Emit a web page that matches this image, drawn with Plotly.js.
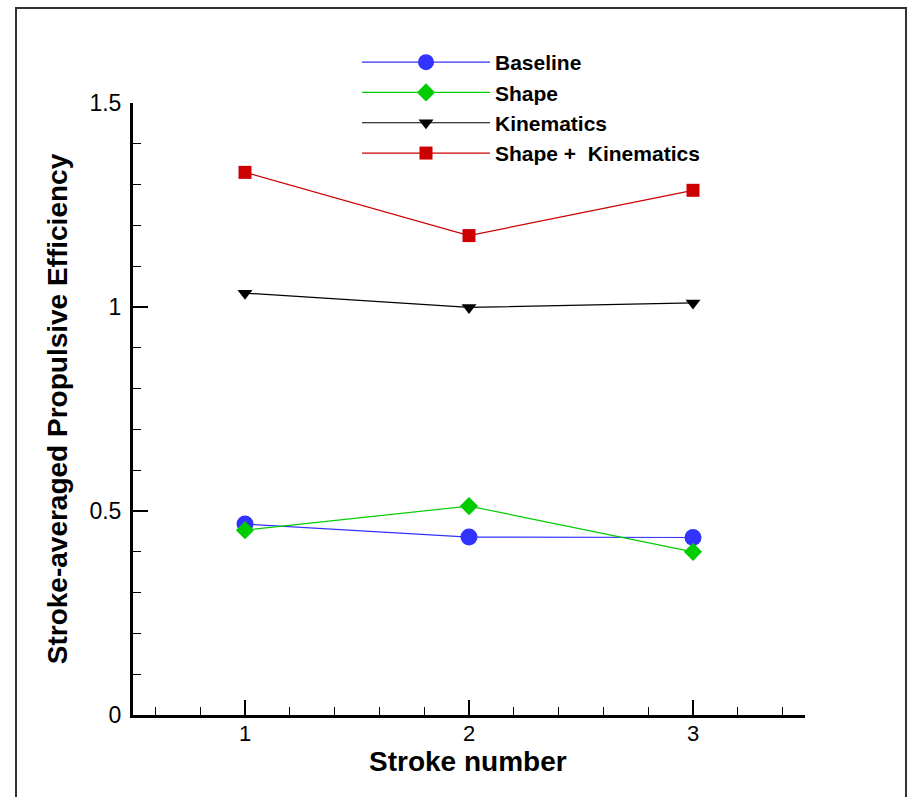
<!DOCTYPE html>
<html>
<head>
<meta charset="utf-8">
<script src="https://cdn.plot.ly/plotly-3.0.1.min.js"></script>
<style>html,body{margin:0;padding:0;background:#fff;}#chart{width:913px;height:797px;}</style>
</head>
<body>
<div id="chart"></div>
<script>
const strokes = [1, 2, 3];
const baseline = [0.468, 0.436, 0.435];
const shape = [0.453, 0.512, 0.400];
const kinematics = [1.034, 0.999, 1.010];
const shapeKinematics = [1.330, 1.175, 1.286];

const seriesNames = ['Baseline', 'Shape', 'Kinematics', 'Shape +  Kinematics'];
const seriesColors = ['rgb(51,51,255)', 'rgb(0,204,0)', 'rgb(0,0,0)', 'rgb(204,0,0)'];
const seriesSymbols = ['circle', 'diamond', 'triangle-down', 'square'];
const seriesSizes = [17, 14, 13, 13];
const seriesValues = [baseline, shape, kinematics, shapeKinematics];
const xTitle = 'Stroke number';
const yTitle = 'Stroke-averaged Propulsive Efficiency';

const traces = seriesValues.map((vals, i) => ({
  x: strokes,
  y: vals,
  type: 'scatter',
  mode: 'lines+markers',
  name: seriesNames[i],
  line: {color: seriesColors[i], width: 1.2},
  marker: {color: seriesColors[i], symbol: seriesSymbols[i], size: seriesSizes[i], line: {width: 0}}
}));

const fontFam = 'Arial, "Liberation Sans", sans-serif';
const W = 913, H = 797;
const L = 133, R = 108, T = 103, B = 82;
const pw = W - L - R, ph = H - T - B;

const layout = {
  width: W, height: H,
  margin: {l: L, r: R, t: T, b: B},
  paper_bgcolor: '#fff', plot_bgcolor: '#fff',
  font: {family: fontFam, color: '#000'},
  showlegend: true,
  legend: {
    x: (357 - L) / pw, xanchor: 'left',
    y: (H - B - 42) / ph, yanchor: 'top',
    font: {family: fontFam, size: 21, weight: 'bold', color: '#000'},
    itemwidth: 128,
    bgcolor: 'rgba(0,0,0,0)',
    borderwidth: 0
  },
  xaxis: {
    range: [0.5, 3.5],
    showgrid: false, zeroline: false,
    showline: true, linewidth: 3, linecolor: '#000',
    ticks: 'inside', ticklen: 15, tickwidth: 2.5, tickcolor: '#000',
    dtick: 1, tick0: 0,
    tickfont: {family: fontFam, size: 22, color: '#000'},
    ticklabelstandoff: -3,
    minor: {dtick: 0.2, tick0: 0, ticks: 'inside', ticklen: 8, tickwidth: 1, tickcolor: '#000', showgrid: false},
    fixedrange: true
  },
  yaxis: {
    range: [0, 1.5],
    showgrid: false, zeroline: false,
    showline: true, linewidth: 3, linecolor: '#000',
    ticks: 'inside', ticklen: 15, tickwidth: 2.5, tickcolor: '#000',
    dtick: 0.5, tick0: 0,
    tickfont: {family: fontFam, size: 23, color: '#000'},
    ticklabelstandoff: 4,
    minor: {dtick: 0.1, tick0: 0, ticks: 'inside', ticklen: 8, tickwidth: 1, tickcolor: '#000', showgrid: false},
    title: {text: yTitle, font: {family: fontFam, size: 28, weight: 'bold', color: '#000'}, standoff: 14},
    fixedrange: true
  },
  annotations: [{
    text: xTitle, xref: 'paper', yref: 'paper',
    x: (468 - L) / pw, y: -(761 - (H - B)) / ph,
    xanchor: 'center', yanchor: 'middle', showarrow: false,
    font: {family: fontFam, size: 28, weight: 'bold', color: '#000'}
  }],
  shapes: [{
    type: 'rect', xref: 'paper', yref: 'paper', layer: 'below',
    x0: (16 - L) / pw, x1: (906 - L) / pw,
    y0: (H - B - 830) / ph, y1: (H - B - 8) / ph,
    line: {color: '#333', width: 2}, fillcolor: 'rgba(0,0,0,0)'
  }]
};

Plotly.newPlot('chart', traces, layout, {displayModeBar: false, staticPlot: true});
</script>
</body>
</html>
